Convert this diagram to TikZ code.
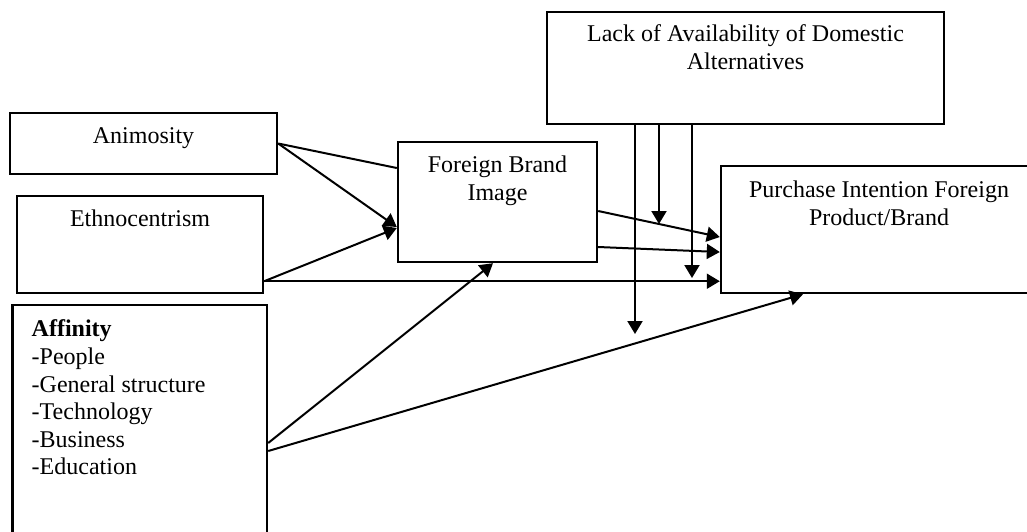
\documentclass[tikz,border=0pt]{standalone}
\usepackage{fontspec}
\setmainfont{Liberation Serif}
\usetikzlibrary{arrows.meta,calc}

\begin{document}
\begin{tikzpicture}[
    x=0.5pt, y=-0.5pt,
    font=\fontsize{12}{13.8}\selectfont,
    box/.style={draw, line width=1.2pt, inner sep=0pt, fill=white},
    txt/.style={anchor=base, align=center, inner sep=0pt, yshift=-16pt},
    arr/.style={line width=1pt, -{Triangle[length=6.5pt, width=7.5pt]}},
    link/.style={line width=1pt}
]
\clip (0,0) rectangle (1027,531);

% constructs (base of a multi-line label is its last line)
\node[box, minimum width=198.5pt, minimum height=56pt,
    label={[txt, yshift=-13.3pt]north:Lack of Availability of Domestic\\Alternatives}] (lack) at (745.5,68) {};
\node[box, minimum width=133.5pt, minimum height=30.5pt,
    label={[txt]north:Animosity}] (anim) at (143.5,143.5) {};
\node[box, minimum width=123pt, minimum height=48.5pt,
    label={[txt]north:Ethnocentrism}] (ethno) at (140,244.5) {};
\node[box, minimum width=127.25pt, minimum height=120pt,
    label={[anchor=base west, align=left, inner sep=0pt, xshift=10pt, yshift=-85.5pt]north west:{\textbf{Affinity}\\-People\\-General structure\\-Technology\\-Business\\-Education}}] (affin) at (139.75,425) {};
\node[box, minimum width=99.5pt, minimum height=60pt,
    label={[txt, yshift=-13.8pt]north:Foreign Brand\\Image}] (fbi) at (497.5,202) {};
\node[box, minimum width=158pt, minimum height=63.5pt,
    label={[txt, yshift=-14.3pt]north:Purchase Intention Foreign\\Product/Brand}] (purch) at (879,229.5) {};

% end points
\coordinate (e1) at ($(ethno.south east)+(0,-13)$);
\coordinate (f1) at ($(fbi.east)+(0,9)$);
\coordinate (p1) at ($(purch.west)+(0,7.5)$);
\coordinate (a1) at ($(affin.east)+(0,18)$);
\coordinate (a2) at ($(affin.east)+(0,26)$);
\coordinate (m1) at (635,334);
\coordinate (m2) at ($(f1)!.5!(p1)$);
\coordinate (m3) at (692,278);

% paths
\draw[link] (anim.east) -- ($(fbi.west)+(0,-34)$);
\draw[arr] (anim.east) -- ($(fbi.west)+(0,25)$);
\draw[arr] (e1) -- ($(fbi.west)+(0,26)$);
\draw[arr] (e1) -- (e1 -| purch.west);
\draw[arr] (f1) -- (p1);
\draw[arr] ($(fbi.east)+(0,45)$) -- ($(purch.west)+(0,22.5)$);
\draw[arr] (a1) -- ($(fbi.south)+(-4.5,0)$);
\draw[arr] (a2) -- ($(purch.south)+(-76,0)$);

% moderator
\draw[arr] (lack.south -| m1) -- (m1);
\draw[arr] (lack.south -| m2) -- (m2);
\draw[arr] (lack.south -| m3) -- (m3);
\end{tikzpicture}
\end{document}
